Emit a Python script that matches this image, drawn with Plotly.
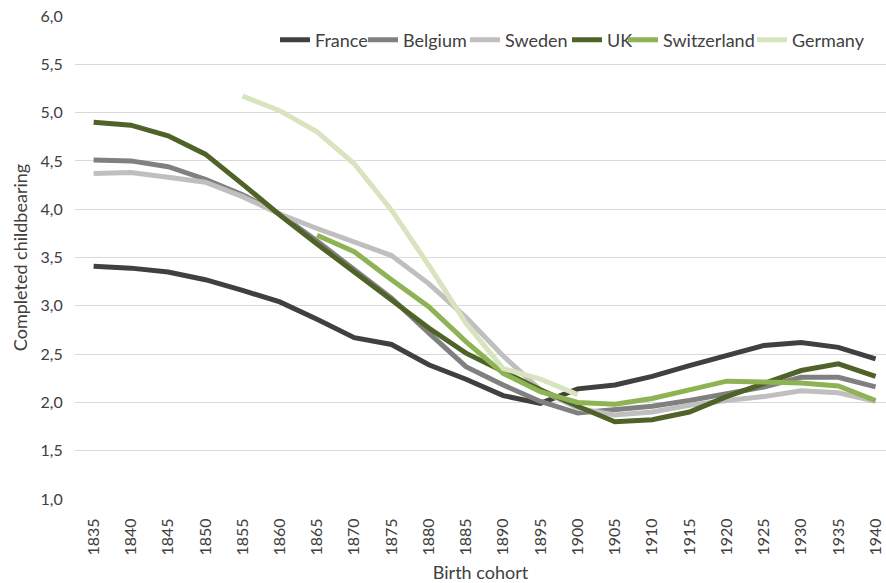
import plotly.graph_objects as go

cohorts = [1835, 1840, 1845, 1850, 1855, 1860, 1865, 1870, 1875, 1880, 1885,
           1890, 1895, 1900, 1905, 1910, 1915, 1920, 1925, 1930, 1935, 1940]

france = [3.41, 3.39, 3.35, 3.27, 3.16, 3.04, 2.86, 2.67, 2.60, 2.39, 2.24,
          2.07, 1.99, 2.14, 2.18, 2.27, 2.38, 2.48, 2.59, 2.62, 2.57, 2.45]
belgium = [4.51, 4.50, 4.44, 4.31, 4.15, 3.95, 3.67, 3.38, 3.08, 2.72, 2.37,
           2.18, 2.01, 1.89, 1.92, 1.96, 2.02, 2.09, 2.16, 2.26, 2.26, 2.16]
sweden = [4.37, 4.38, 4.33, 4.28, 4.13, 3.95, 3.80, 3.66, 3.52, 3.23, 2.88,
          2.48, 2.13, 1.94, 1.87, 1.90, 1.97, 2.02, 2.06, 2.12, 2.10, 2.01]
uk = [4.90, 4.87, 4.76, 4.57, 4.26, 3.94, 3.64, 3.35, 3.06, 2.77, 2.51,
      2.32, 2.13, 1.96, 1.80, 1.82, 1.90, 2.06, 2.20, 2.33, 2.40, 2.27]
switzerland = [None, None, None, None, None, None, 3.73, 3.56, 3.27, 2.99, 2.63,
               2.30, 2.11, 2.00, 1.98, 2.04, 2.13, 2.22, 2.21, 2.20, 2.17, 2.02]
germany = [None, None, None, None, 5.17, 5.02, 4.80, 4.47, 3.99, 3.42, 2.82,
           2.35, 2.24, 2.08, None, None, None, None, None, None, None, None]

series_names = ["France", "Belgium", "Sweden", "UK", "Switzerland", "Germany"]
series_values = [france, belgium, sweden, uk, switzerland, germany]
series_colors = ["#404040", "#808080", "#bfbfbf", "#4f6228", "#8db354", "#d7e4bd"]
# pixel x where each legend label text starts in the reference
legend_text_px = [315, 403, 505, 607, 663, 792]

W, H = 886, 583
ML, MR, MT, MB = 75, 0, 16, 84
PW, PH = W - ML - MR, H - MT - MB

font_family = "Lato, 'Open Sans', sans-serif"
text_col = "#404040"

fig = go.Figure()
legend_layouts = {}
for i, (name, vals, col) in enumerate(zip(series_names, series_values, series_colors)):
    lg = "legend" if i == 0 else f"legend{i + 1}"
    fig.add_trace(go.Scatter(x=cohorts, y=vals, name=name, mode="lines",
                             line=dict(color=col, width=5),
                             connectgaps=False, legend=lg))
    legend_layouts[lg] = dict(
        x=(legend_text_px[i] - 40 - ML) / PW, xanchor="left",
        y=(H - MB - 40) / PH, yanchor="middle",
        orientation="h", itemwidth=30,
        font=dict(size=18, color=text_col, family=font_family),
        bgcolor="rgba(0,0,0,0)", borderwidth=0,
    )

fig.update_layout(
    width=W, height=H,
    margin=dict(l=ML, r=MR, t=MT, b=MB, autoexpand=False),
    paper_bgcolor="white", plot_bgcolor="white",
    separators=", ",
    font=dict(family=font_family, size=16, color=text_col),
    showlegend=True,
    xaxis=dict(range=[1832.5, 1941.4], tickmode="array", tickvals=cohorts,
               ticktext=[str(c) for c in cohorts], tickangle=-90,
               showgrid=False, zeroline=False, showline=False, automargin=False,
               ticks="outside", ticklen=12, tickcolor="rgba(0,0,0,0)",
               tickfont=dict(size=16, color=text_col),
               title=dict(text="Birth cohort", font=dict(size=18, color=text_col),
                          standoff=13)),
    yaxis=dict(range=[1, 6], dtick=0.5, tick0=1, tickformat=".1f",
               showgrid=True, gridcolor="#d9d9d9", gridwidth=1,
               zeroline=False, showline=False, automargin=False,
               ticks="outside", ticklen=8, tickcolor="rgba(0,0,0,0)",
               tickfont=dict(size=16, color=text_col),
               title=dict(text="Completed childbearing", font=dict(size=18, color=text_col),
                          standoff=8)),
    **legend_layouts,
)

fig.write_html("out.html",
               config={"displayModeBar": False},
               post_script="document.body.style.margin='0';document.body.style.overflow='hidden';")
